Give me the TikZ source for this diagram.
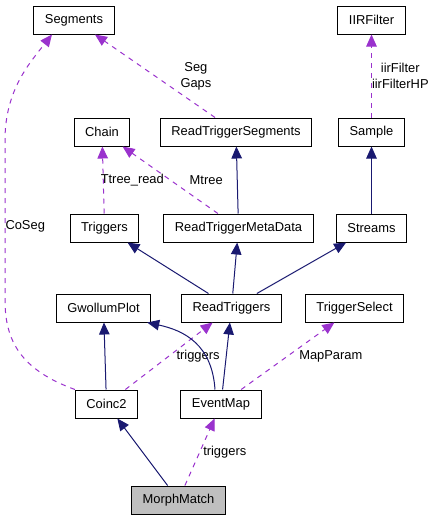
\documentclass[tikz,border=0pt]{standalone}
\usepackage{fontspec}
\setmainfont{Liberation Sans}
\usepackage{xcolor}
\usetikzlibrary{arrows.meta}
\definecolor{inhblue}{HTML}{191970}
\definecolor{usepurple}{HTML}{9A32CD}
\definecolor{focusgray}{HTML}{BFBFBF}
\tikzset{
  cls/.style={draw=black, line width=1pt, minimum height=28pt, inner xsep=11pt, inner ysep=0pt, font=\fontsize{12.9}{15.5}\selectfont},
  focus/.style={cls, fill=focusgray},
  inherit/.style={draw=inhblue, line width=1pt, -{Triangle[length=12pt, width=10.5pt]}},
  uses/.style={draw=usepurple, line width=1pt, dash pattern=on 5pt off 5pt, -{Triangle[length=12pt, width=10.5pt]}},
  lbl/.style={font=\fontsize{12.9}{16}\selectfont, inner sep=1pt, align=center},
}

\begin{document}
\begin{tikzpicture}[x=1pt, y=-1pt]
        \useasboundingbox (0,0) rectangle (436,520); %
        \node[cls] (seg) at (74,20) {Segments} ; %
        \node[cls] (iir) at (371.5,20) {IIRFilter} ; %
        \node[cls] (chain) at (102,132) {Chain} ; %
        \node[cls] (rts) at (236,132) {ReadTriggerSegments} ; %
        \node[cls] (sample) at (371.5,132) {Sample} ; %
        \node[cls] (trig) at (104.5,228) {Triggers} ; %
        \node[cls] (rtmd) at (238.5,228) {ReadTriggerMetaData} ; %
        \node[cls] (streams) at (371.5,228) {Streams} ; %
        \node[cls] (gwp) at (103.5,308) {GwollumPlot} ; %
        \node[cls] (rt) at (231.5,308) {ReadTriggers} ; %
        \node[cls] (tsel) at (354.5,308) {TriggerSelect} ; %
        \node[cls] (coinc) at (106.5,404) {Coinc2} ; %
        \node[cls] (emap) at (221,404) {EventMap} ; %
        \node[focus] (morph) at (178.5,500) {MorphMatch} ; %
        \draw[inherit] (morph) -- (coinc); %
        \draw[uses] (morph) -- node[lbl, right=2pt] {triggers} (emap); %
        \draw[inherit] (coinc) -- (gwp); %
        \draw[uses] (coinc) -- node[lbl, right=6pt] {triggers} (rt); %
        \draw[uses] (coinc.north west) .. controls +(-55,-20) and +(0,40) .. (5,300) -- node[lbl, pos=.46, right=-1pt] {CoSeg} (5,140) .. controls +(0,-50) and +(-22,28) .. ([xshift=-22pt]seg.south); %
        \draw[inherit] ([xshift=-6pt]emap.north) .. controls +(-3,-45) and +(37,8) .. ([xshift=-4pt]gwp.south east); %
        \draw[inherit] (emap) -- (rt); %
        \draw[uses] (emap) -- node[lbl, right=10pt] {MapParam} (tsel); %
        \draw[inherit] (rt) -- (trig); %
        \draw[inherit] (rt) -- (rtmd); %
        \draw[inherit] (rt) -- (streams); %
        \draw[uses] (trig) -- node[lbl, right=-4pt] {Ttree\_read} (chain); %
        \draw[uses] (rtmd) -- node[lbl, right=18pt] {Mtree} (chain); %
        \draw[inherit] (rtmd) -- (rts); %
        \draw[uses] (rts) -- node[lbl, right=24pt] {Seg\\Gaps} (seg); %
        \draw[inherit] (streams) -- (sample); %
        \draw[uses] (sample) -- node[lbl, right=-1pt] {iirFilter\\iirFilterHP} (iir); %
      \end{tikzpicture}
\end{document}
